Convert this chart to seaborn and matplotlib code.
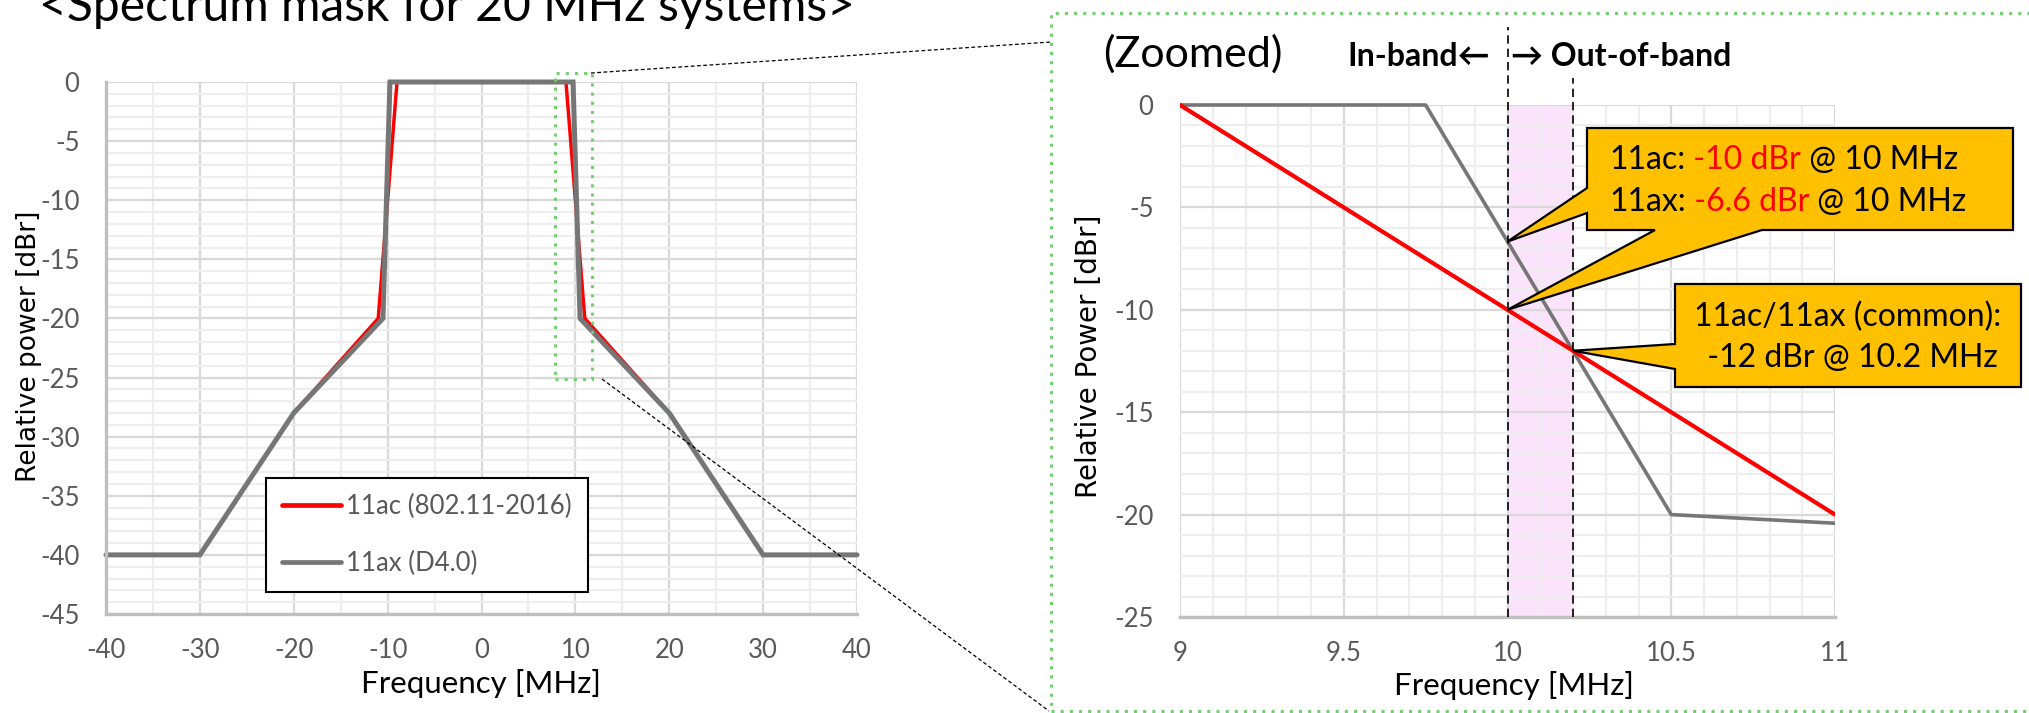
import matplotlib
matplotlib.use("Agg")
import numpy as np
import pandas as pd
import matplotlib.pyplot as plt
import seaborn as sns
from matplotlib.ticker import MultipleLocator
from matplotlib.patches import Rectangle, Polygon
from matplotlib.lines import Line2D
from matplotlib.transforms import Bbox, TransformedBbox

# ---------------- data ----------------
freq_11ac = [-40, -30, -20, -11, -9, 9, 11, 20, 30, 40]
mask_11ac = [-40, -40, -28, -20, 0, 0, -20, -28, -40, -40]
freq_11ax = [-40, -30, -20, -10.5, -9.75, 9.75, 10.5, 20, 30, 40]
mask_11ax = [-40, -40, -28, -20, 0, 0, -20, -28, -40, -40]
series_labels = ["11ac (802.11-2016)", "11ax (D4.0)"]

left_xticks = [-40, -30, -20, -10, 0, 10, 20, 30, 40]
left_yticks = [0, -5, -10, -15, -20, -25, -30, -35, -40, -45]
right_xticks = [9, 9.5, 10, 10.5, 11]
right_yticks = [0, -5, -10, -15, -20, -25]

band_edges = [10, 10.2]          # in-band edge / common crossing
callout_x = [10, 10, 10.2]
callout_y = [-6.67, -10, -12]

# ---------------- style ----------------
sns.set_style("white")
CAL = ["Lato", "DejaVu Sans"]
plt.rcParams["font.family"] = CAL
plt.rcParams["axes.unicode_minus"] = False

RED = "#ff0000"
GRAY = "#767676"
GREEN = "#72d06e"
TICKC = "#595959"

W, H = 2029, 713
def fx(x):
    return x / W
def fy(y):
    return 1 - y / H

fig = plt.figure(figsize=(W / 100, H / 100), dpi=100)
axL = fig.add_axes([fx(106), fy(614), (857 - 106) / W, (614 - 82) / H])
axR = fig.add_axes([fx(1180), fy(617), (1835 - 1180) / W, (617 - 105) / H])

def style_axes(ax, xmin, ymin, left_spine=True):
    ax.set_axisbelow(True)
    ax.xaxis.set_minor_locator(MultipleLocator(xmin))
    ax.yaxis.set_minor_locator(MultipleLocator(ymin))
    ax.grid(which="major", color="#d9d9d9", lw=1.6)
    ax.grid(which="minor", color="#eeeeee", lw=1.6)
    for s in ["top", "right"]:
        ax.spines[s].set_visible(False)
    ax.spines["bottom"].set_color("#bfbfbf")
    ax.spines["bottom"].set_linewidth(2.4)
    if left_spine:
        ax.spines["left"].set_color("#bfbfbf")
        ax.spines["left"].set_linewidth(2.4)
    else:
        ax.spines["left"].set_visible(False)
    ax.tick_params(which="both", length=0)
    ax.tick_params(axis="x", labelsize=18.5, labelcolor=TICKC, pad=17)
    ax.tick_params(axis="y", labelsize=18.5, labelcolor=TICKC, pad=19)

# ---------------- left chart ----------------
sns.lineplot(x=freq_11ac, y=mask_11ac, ax=axL, color=RED, lw=2.5,
             label=series_labels[0], estimator=None, sort=False)
sns.lineplot(x=freq_11ax, y=mask_11ax, ax=axL, color=GRAY, lw=3.6,
             label=series_labels[1], estimator=None, sort=False)
for ln in axL.lines:
    ln.set_clip_on(False)
    ln.set_solid_joinstyle("miter")
axL.set_xlim(-40, 40)
axL.set_ylim(-45, 0)
axL.set_xticks(left_xticks, labels=[f"{t:g}" for t in left_xticks])
axL.set_yticks(left_yticks, labels=[f"{t:g}" for t in left_yticks])
style_axes(axL, 5, 1)
axL.set_xlabel("Frequency [MHz]", fontsize=22.5, color="black")
axL.xaxis.label.set_va("center")
axL.xaxis.set_label_coords(0.499, -0.13)
axL.set_ylabel("Relative power [dBr]", fontsize=19, color="black",
               family=["DejaVu Sans"])
axL.yaxis.label.set_va("center")
axL.yaxis.set_label_coords(-0.103, 0.503)

leg = axL.legend(loc="upper left", bbox_to_anchor=(fx(266), fy(478)),
                 bbox_transform=fig.transFigure, borderaxespad=0,
                 fontsize=18.5, handlelength=2.3, handletextpad=0.2,
                 labelspacing=1.25, borderpad=0.62, frameon=True,
                 fancybox=False, edgecolor="black", framealpha=1)
leg.get_frame().set_linewidth(1.5)
for t in leg.get_texts():
    t.set_color(TICKC)
for h in leg.get_lines():
    h.set_linewidth(3.4)

# small green dotted zoom box
axL.add_patch(Rectangle((7.8, -25.1), 4.0, 25.9, fill=False, ec=GREEN,
                        lw=2.2, ls=(0, (1, 2)), clip_on=False, zorder=5))

# ---------------- right chart ----------------
axR.axvspan(band_edges[0], band_edges[1], color="#fbe4fb", zorder=0.4, lw=0)
sns.lineplot(x=freq_11ax, y=mask_11ax, ax=axR, color=GRAY, lw=2.6,
             estimator=None, sort=False, legend=False)
sns.lineplot(x=freq_11ac, y=mask_11ac, ax=axR, color=RED, lw=3.0,
             estimator=None, sort=False, legend=False)
axR.set_xlim(9, 11)
axR.set_ylim(-25, 0)
clipbox = TransformedBbox(Bbox.from_extents(0, -0.02, 1, 1.02), axR.transAxes)
for ln in axR.lines:
    ln.set_clip_box(clipbox)
    ln.set_clip_path(None)
axR.set_xticks(right_xticks, labels=[f"{t:g}" for t in right_xticks])
axR.set_yticks(right_yticks, labels=[f"{t:g}" for t in right_yticks])
style_axes(axR, 0.1, 1, left_spine=False)
axR.set_xlabel("Frequency [MHz]", fontsize=22.5, color="black")
axR.xaxis.label.set_va("center")
axR.xaxis.set_label_coords(0.51, -0.133)
axR.set_ylabel("Relative Power [dBr]", fontsize=20, color="black",
               family=["DejaVu Sans"])
axR.yaxis.label.set_va("center")
axR.yaxis.set_label_coords(-0.139, 0.51)

axR.axvline(band_edges[0], ymin=0, ymax=1.152, color="black", lw=1.2,
            ls=(0, (5, 3)), clip_on=False, zorder=4)
axR.axvline(band_edges[1], ymin=0, ymax=1.053, color="black", lw=1.2,
            ls=(0, (5, 3)), clip_on=False, zorder=4)

# ---------------- callouts ----------------
def tip(i):
    d = axR.transData.transform((callout_x[i], callout_y[i]))
    return (d[0], H - d[1])  # pixels from top

t1, t2, t3 = tip(0), tip(1), tip(2)
ORANGE = "#ffc000"
poly1 = [(1587, 128), (2013, 128), (2013, 230), (1762, 230), t2, (1655, 230),
         (1587, 230), (1587, 213), t1, (1587, 188)]
poly2 = [(1675, 284), (2021, 284), (2021, 387), (1675, 387), (1675, 369), t3,
         (1675, 344)]
for poly in (poly1, poly2):
    axR.add_patch(Polygon([(fx(x), fy(y)) for x, y in poly], closed=True,
                          transform=fig.transFigure, fc=ORANGE, ec="black",
                          lw=1.6, clip_on=False, zorder=6, joinstyle="miter"))

def rich(x, y, parts, fs=23):
    prev = None
    for s, c in parts:
        if prev is None:
            prev = axR.annotate(s, xy=(x, H - y), xycoords="figure pixels",
                                ha="left", va="center", color=c, fontsize=fs,
                                annotation_clip=False, zorder=7)
        else:
            prev = axR.annotate(s, xy=(1, 0.5), xycoords=prev, ha="left",
                                va="center", color=c, fontsize=fs,
                                annotation_clip=False, zorder=7)

rich(1609, 160, [("11ac:", "black"), (" -10 dBr", RED), (" @ 10 MHz", "black")])
rich(1609, 202, [("11ax:", "black"), (" -6.6 dBr", RED), (" @ 10 MHz", "black")])
for txt, yy in [("11ac/11ax (common):", 317), (" -12 dBr @ 10.2 MHz", 358)]:
    axR.annotate(txt, xy=(1848, H - yy), xycoords="figure pixels", ha="center",
                 va="center", color="black", fontsize=23,
                 annotation_clip=False, zorder=7)

# ---------------- figure decorations ----------------
fig.text(fx(39), fy(21), "<Spectrum mask for 20 MHz systems>", fontsize=34.6,
         ha="left", va="baseline", color="black")
fig.text(fx(1103), fy(54), "(Zoomed)", fontsize=31, ha="left", va="center",
         color="black")
fig.text(fx(1490), fy(57), "In-band\u2190", fontsize=23, fontweight="bold",
         ha="right", va="center", color="black")
fig.text(fx(1511), fy(57), "\u2192 Out-of-band", fontsize=23, fontweight="bold",
         ha="left", va="center", color="black")

fig.add_artist(Rectangle((fx(1051), fy(711)), (2050 - 1051) / W, (711 - 13) / H,
                         transform=fig.transFigure, fill=False, ec=GREEN, lw=2.2,
                         ls=(0, (1, 2))))
fig.add_artist(Line2D([fx(591), fx(1051)], [fy(73), fy(42)],
                      transform=fig.transFigure, color="black", lw=0.9,
                      ls=(0, (3, 2))))
fig.add_artist(Line2D([fx(602), fx(1049)], [fy(379), fy(711)],
                      transform=fig.transFigure, color="black", lw=0.9,
                      ls=(0, (3, 2))))

fig.savefig("out.png", dpi=100)
